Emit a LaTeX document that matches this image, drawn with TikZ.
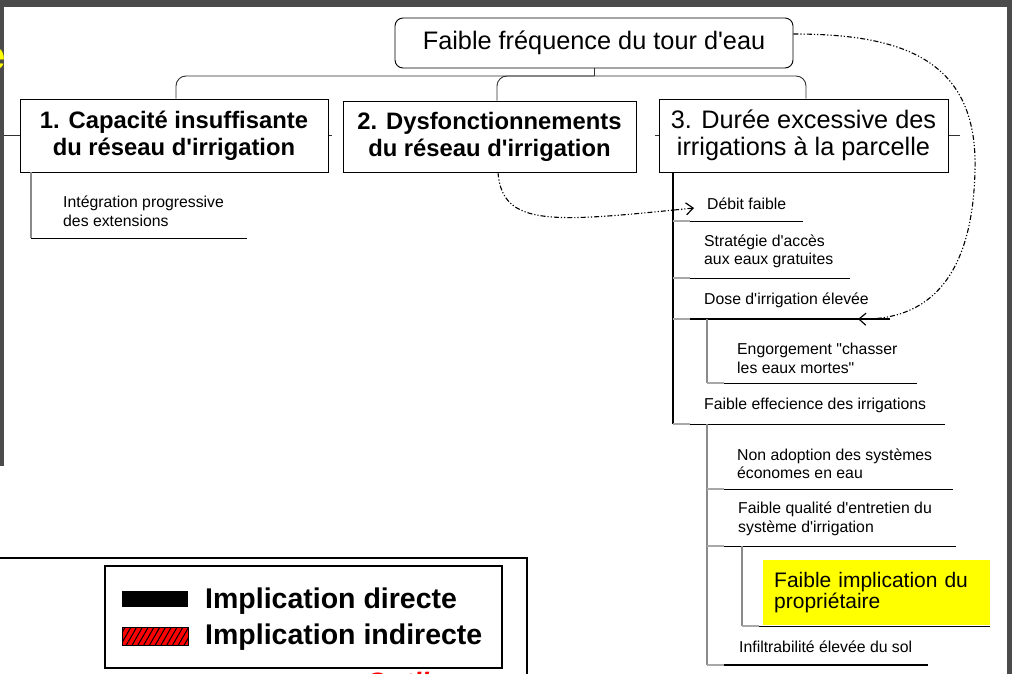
\documentclass[tikz,border=0pt]{standalone}
\usepackage{fontspec}
\setmainfont{Liberation Sans}[Ligatures=TeXOff]
\usetikzlibrary{arrows.meta,patterns.meta,shadows}

\definecolor{framegray}{HTML}{4B4B4B}
\definecolor{leadgray}{HTML}{A8A8A8}
\definecolor{treegray}{HTML}{8A8A8A}
\definecolor{linkgray}{HTML}{303030}
\definecolor{hiyellow}{HTML}{FFFF00}

\newcommand\fsize[2]{\fontsize{#1}{#2}\selectfont}
% a tree branch: light lead-in, then the underline itself
\newcommand\hbranch[4][]{%
  \draw[lead] (#2,#4) -- ({#2+17},#4);
  \draw[under,#1] ({#2+17},#4) -- (#3,#4);}

\tikzset{
  headbox/.style={draw=black, line width=0.9pt, fill=white, inner sep=0pt, align=center,
    drop shadow={shadow xshift=1.3pt, shadow yshift=-1.3pt, opacity=1, fill=black}},
  headbold/.style={headbox, font=\bfseries\fsize{23.8}{27}},
  headreg/.style={headbox, font=\fsize{25.3}{27}},
  item/.style={anchor=west, inner sep=0pt, align=left, font=\fsize{15.8}{18.5}},
  tree/.style={draw=linkgray, line width=0.9pt},
  spine/.style={draw=black, line width=1.3pt},
  subtree/.style={draw=treegray, line width=1.1pt},
  lead/.style={draw=leadgray, line width=1.1pt},
  under/.style={draw=black, line width=0.9pt},
  indirect/.style={draw=black, line width=1.1pt,
    dash pattern=on 5pt off 2pt on 1.2pt off 2pt on 1.2pt off 2pt,
    -{Straight Barb[length=7pt,width=12pt,line width=1.2pt]}},
  legendtext/.style={anchor=west, inner sep=0pt, font=\bfseries\fsize{28.5}{30}},
}

\begin{document}
\begin{tikzpicture}[x=1pt,y=-1pt]
\useasboundingbox (0,0) rectangle (1012,674);
\fill[white] (0,0) rectangle (1012,674);

% window frame
\fill[framegray] (0,0) rectangle (1012,7);
\fill[framegray] (1007,0) rectangle (1012,674);
\fill[framegray] (0,0) rectangle (4,466);
\begin{scope}
  \clip (0,0) rectangle (4,466);
  \node[text=hiyellow, font=\bfseries\fsize{40}{44}, anchor=base east, inner sep=0pt] at (5.5,70) {e};
\end{scope}

% short side ticks behind the level-one boxes
\draw[tree] (4,135.5) -- (332,135.5);
\draw[tree] (655,135.5) -- (960,135.5);

% root and level-one boxes
\node[draw=black, line width=0.9pt, fill=white, rounded corners=8pt, minimum width=398pt,
      minimum height=50pt, inner sep=0pt, font=\fsize{25.3}{27}] (top) at (594,43)
      {Faible fréquence du tour d'eau};
\node[headbold, minimum width=308pt, minimum height=73pt] (b1) at (174,135.5)
      {1. Capacité insuffisante\\du réseau d'irrigation};
\node[headbold, minimum width=293pt, minimum height=71pt] (b2) at (489.5,136.5)
      {2. Dysfonctionnements\\du réseau d'irrigation};
\node[headreg, minimum width=289pt, minimum height=73pt] (b3) at (803.5,135.5)
      {3. Durée excessive des\\irrigations à la parcelle};

% org-chart bracket
\coordinate (fork) at (594,76);
\draw[tree] (top.south) -- (fork);
\draw[tree, rounded corners=10pt] (fork) -| ([xshift=2pt]b1.north);
\draw[tree, rounded corners=10pt] (fork) -| ([xshift=7.5pt]b2.north);
\draw[tree, rounded corners=10pt] (fork) -| ([xshift=2.5pt]b3.north);

% branch of box 1
\node[item] (integ) at (63,211.5) {Intégration progressive\\des extensions};
\coordinate (integend) at (247,238);
\draw[subtree] ([xshift=-143pt]b1.south) -- (31,238);
\draw[under] (31,238) -- (integend);

% branch of box 3
\node[item] (debit) at (707,204) {Débit faible};
\node[item] (strat) at (704,251.5) {Stratégie d'accès\\aux eaux gratuites};
\node[item] (dose) at (704,300) {Dose d'irrigation élevée};
\node[item] (engorg) at (737,358.5) {Engorgement "chasser\\les eaux mortes"};
\node[item] (effic) at (704,405) {Faible effecience des irrigations};
\node[item] (nonad) at (737,464) {Non adoption des systèmes\\économes en eau};
\node[item] (entret) at (738,519) {Faible qualité d'entretien du\\système d'irrigation};
\node[item] (infil) at (739,647) {Infiltrabilité élevée du sol};

\draw[spine] ([xshift=-130.5pt]b3.south) -- (673,424);
\hbranch{673}{803}{221}
\hbranch{673}{850}{278}
\hbranch[line width=1.8pt]{673}{890}{319}
\hbranch{673}{945}{424}

\draw[subtree] (707,319) -- (707,383);
\hbranch{707}{917}{383}

\draw[subtree] (707,424) -- (707,665);
\hbranch{707}{953}{489}
\hbranch{707}{956}{546}
\hbranch[line width=2.2pt]{707}{928}{665}

\draw[subtree] (742,546) -- (742,626);
\node[fill=hiyellow, anchor=north west, minimum height=65pt, text width=205pt,
      inner xsep=11pt, inner ysep=0pt, align=left, font=\fsize{21}{21.5}] (owner) at (763,560)
      {Faible implication du\\propriétaire};
\hbranch{742}{990}{626}

% indirect links
\coordinate (debittip) at (694,208);
\draw[indirect] ([xshift=8.5pt]b2.south) .. controls (502,228) and (555,222) .. (debittip);
\coordinate (dosetip) at (858,319);
\draw[indirect] ([yshift=9pt]top.east) .. controls (900,34) and (978,58) .. (975,170)
      .. controls (973,262) and (940,321) .. (dosetip);

% legend
\draw[black, line width=1.2pt] (0,558) -- (527,558) -- (527,674);
\node[draw=black, line width=1.1pt, minimum width=397pt, minimum height=102pt, inner sep=0pt]
      (legend) at (303.5,617) {};
\node[fill=black, minimum width=66pt, minimum height=16pt, inner sep=0pt] (swdir) at (155,599) {};
\node[fill=red, draw=black, line width=0.5pt, minimum width=66pt, minimum height=18pt, inner sep=0pt,
      postaction={pattern={Lines[angle=60,distance=5pt,line width=1pt]}, pattern color=black}]
      (swind) at (155,636) {};
\node[legendtext] (ldir) at (205,601) {Implication directe};
\node[legendtext] (lind) at (205,637) {Implication indirecte};

% caption running off the bottom edge
\begin{scope}
  \clip (0,0) rectangle (1012,674);
  \node[text=red, font=\bfseries\itshape\fsize{28}{30}, anchor=base west, inner sep=0pt] (cap) at (365,692) {Outils};
\end{scope}
\end{tikzpicture}
\end{document}
